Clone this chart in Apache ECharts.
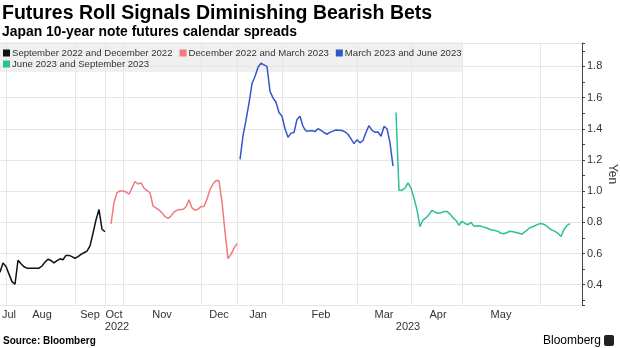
<!DOCTYPE html>
<html>
<head>
<meta charset="utf-8">
<script src="https://cdn.jsdelivr.net/npm/echarts@6/dist/echarts.min.js"></script>
<style>
html,body{margin:0;padding:0;background:#fff;}
#chart{width:620px;height:348px;}
</style>
</head>
<body>
<div id="chart"></div>
<script>
// ---- Data (trading-day index on a compressed axis, one step per session) ----
const nDays = 195;
const seriesNames = ['September 2022 and December 2022', 'December 2022 and March 2023', 'March 2023 and June 2023', 'June 2023 and September 2023'];
const seriesColors = ['#111111', '#f07b7b', '#3456cc', '#2dbf98'];

const sepDecStart = 0;
const sepDec = [0.48, 0.54, 0.517, 0.468, 0.42, 0.403, 0.557, 0.535, 0.515, 0.506, 0.506, 0.506, 0.506, 0.506,
  0.52, 0.545, 0.563, 0.555, 0.54, 0.555, 0.566, 0.56, 0.588, 0.588, 0.58, 0.57, 0.58, 0.594, 0.605, 0.615,
  0.649, 0.73, 0.816, 0.882, 0.756, 0.74];

const decMarStart = 37;
const decMar = [0.79, 0.927, 0.99, 1.001, 1.001, 0.995, 0.98, 1.021, 1.062, 1.046, 1.053, 1.02, 1.003, 0.99,
  0.905, 0.892, 0.88, 0.86, 0.837, 0.826, 0.84, 0.866, 0.878, 0.882, 0.882, 0.90, 0.944, 0.893, 0.878, 0.885,
  0.901, 0.901, 0.95, 1.01, 1.046, 1.068, 1.066, 0.93, 0.74, 0.567, 0.595, 0.635, 0.664];

const marJunStart = 80;
const marJun = [1.204, 1.355, 1.455, 1.565, 1.69, 1.735, 1.795, 1.82, 1.81, 1.80, 1.64, 1.598, 1.57, 1.504,
  1.48, 1.40, 1.345, 1.372, 1.376, 1.46, 1.48, 1.415, 1.385, 1.386, 1.388, 1.382, 1.40, 1.39, 1.376, 1.365,
  1.377, 1.385, 1.392, 1.391, 1.389, 1.38, 1.365, 1.335, 1.305, 1.33, 1.31, 1.325, 1.378, 1.42, 1.39, 1.378,
  1.38, 1.352, 1.415, 1.40, 1.31, 1.161];

const junSepStart = 132;
const junSep = [1.504, 1.006, 1.006, 1.02, 1.053, 1.02, 0.955, 0.88, 0.773, 0.815, 0.828, 0.85, 0.877, 0.865,
  0.858, 0.862, 0.869, 0.87, 0.853, 0.83, 0.812, 0.781, 0.807, 0.793, 0.785, 0.80, 0.775, 0.778, 0.777, 0.771,
  0.765, 0.757, 0.751, 0.748, 0.742, 0.73, 0.727, 0.735, 0.743, 0.739, 0.735, 0.73, 0.725, 0.74, 0.756, 0.769,
  0.775, 0.785, 0.792, 0.79, 0.78, 0.763, 0.75, 0.742, 0.73, 0.709, 0.755, 0.78, 0.792];

// tick labels
const monthNames = ['Jul', 'Aug', 'Sep', 'Oct', 'Nov', 'Dec', 'Jan', 'Feb', 'Mar', 'Apr', 'May'];
const monthLabelDay = [3, 14, 30, 38, 54, 73, 86, 107, 128, 146, 167];
const monthGridDay = [2, 25, 35, 41, 67, 79, 94, 119, 137, 154, 180];
const yearNames = ['2022', '2023'];
const yearLabelDay = [39, 136];

// ---- Build ----
function pad(start, vals) {
  const a = new Array(nDays).fill(null);
  vals.forEach((v, i) => { a[start + i] = v; });
  return a;
}
const days = Array.from({length: nDays}, (_, i) => String(i));
const monthMap = {}; monthLabelDay.forEach((d, i) => monthMap[d] = monthNames[i]);
const yearMap = {}; yearLabelDay.forEach((d, i) => yearMap[d] = yearNames[i]);
const gridSet = new Set(monthGridDay);

const seriesData = [pad(sepDecStart, sepDec), pad(decMarStart, decMar), pad(marJunStart, marJun), pad(junSepStart, junSep)];

const FONT = "'Liberation Sans', Arial, sans-serif";
const chart = echarts.init(document.getElementById('chart'), null, {renderer: 'canvas'});
chart.setOption({
  animation: false,
  backgroundColor: '#ffffff',
  textStyle: {fontFamily: FONT},
  title: [
    {text: 'Futures Roll Signals Diminishing Bearish Bets', left: 2, top: 4, padding: 0,
     textStyle: {fontSize: 19.5, fontWeight: 'bold', color: '#000', fontFamily: FONT}},
    {text: 'Japan 10-year note futures calendar spreads', left: 2, top: 25, padding: 0,
     textStyle: {fontSize: 13.9, fontWeight: 'bold', color: '#000', fontFamily: FONT}},
    {text: 'Source: Bloomberg', left: 3, top: 336, padding: 0,
     textStyle: {fontSize: 10, fontWeight: 'bold', color: '#000', fontFamily: FONT}},
    {text: 'Bloomberg', right: 19, top: 335, padding: 0,
     textStyle: {fontSize: 12, fontWeight: 'normal', color: '#000', fontFamily: FONT}}
  ],
  graphic: [
    {type: 'rect', left: 0, top: 42, shape: {width: 462, height: 30}, style: {fill: '#f0f0f0'}, z: -1},
    {type: 'rect', right: 6, top: 335, shape: {width: 10, height: 11, r: 2}, style: {fill: '#222'}}
  ],
  legend: [
    {data: seriesNames.slice(0, 3), left: 3, top: 48, padding: 0, itemGap: 7, itemWidth: 7, itemHeight: 7,
     icon: 'rect', textStyle: {fontSize: 9.6, color: '#333', padding: [0, 0, 0, -3], fontFamily: FONT}},
    {data: seriesNames.slice(3), left: 3, top: 59, padding: 0, itemGap: 7, itemWidth: 7, itemHeight: 7,
     icon: 'rect', textStyle: {fontSize: 9.6, color: '#333', padding: [0, 0, 0, -3], fontFamily: FONT}}
  ],
  grid: {left: 0, right: 38, top: 43, bottom: 43, containLabel: false, outerBoundsMode: 'none'},
  xAxis: [
    {type: 'category', data: days, boundaryGap: false,
     axisLine: {show: false}, axisTick: {show: false},
     splitLine: {show: true, interval: (i) => gridSet.has(i), lineStyle: {color: '#e6e6e6', width: 1}},
     axisLabel: {interval: (i) => monthMap[i] !== undefined, formatter: (v, i) => monthMap[i] || '',
       margin: 4, fontSize: 11, color: '#333', fontFamily: FONT}},
    {type: 'category', data: days, boundaryGap: false, position: 'bottom', offset: 12,
     axisLine: {show: false}, axisTick: {show: false}, splitLine: {show: false},
     axisLabel: {interval: (i) => yearMap[i] !== undefined, formatter: (v, i) => yearMap[i] || '',
       margin: 4, fontSize: 11, color: '#333', fontFamily: FONT}}
  ],
  yAxis: {
    type: 'value', position: 'right', min: 0.27, max: 1.95, splitNumber: 8, minInterval: 0.2, maxInterval: 0.2,
    name: 'Yen', nameLocation: 'middle', nameRotate: -90, nameGap: 24, nameMoveOverlap: false,
    nameTextStyle: {fontSize: 12, color: '#333', fontFamily: FONT},
    axisLine: {show: true, lineStyle: {color: '#444', width: 1}},
    axisTick: {show: true, inside: false, length: 3, lineStyle: {color: '#444'}},
    minorTick: {show: true, splitNumber: 2, length: 3, lineStyle: {color: '#444'}},
    splitLine: {show: true, lineStyle: {color: '#e6e6e6', width: 1}},
    axisLabel: {margin: 5, fontSize: 11, color: '#333', showMinLabel: false, showMaxLabel: false,
      formatter: (v) => v.toFixed(1), fontFamily: FONT}
  },
  series: seriesData.map((d, k) => ({
    name: seriesNames[k], type: 'line', data: d, connectNulls: false, showSymbol: false, symbol: 'none',
    color: seriesColors[k], lineStyle: {width: 1.5, color: seriesColors[k]}, z: 3
  }))
});
</script>
</body>
</html>
